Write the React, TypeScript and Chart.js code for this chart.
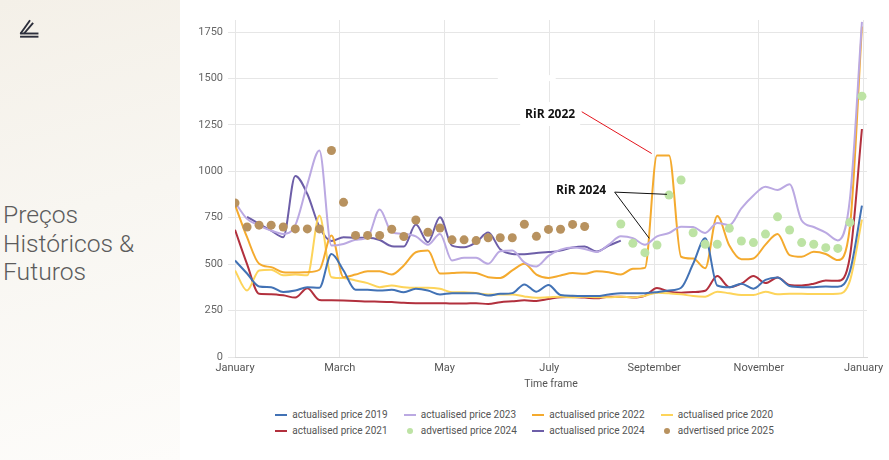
import React, { useEffect, useRef } from "react";
import { Chart, registerables } from "chart.js";

Chart.register(...registerables);

// ---------- data ----------
const weeks = [
  0, 1, 2, 3, 4, 5, 6, 7, 8, 9, 10, 11, 12, 13, 14, 15, 16, 17, 18, 19, 20, 21, 22, 23, 24, 25,
  26, 27, 28, 29, 30, 31, 32, 33, 34, 35, 36, 37, 38, 39, 40, 41, 42, 43, 44, 45, 46, 47, 48, 49,
  50, 51, 52,
];
const monthLabels = ["January", "March", "May", "July", "September", "November", "January"];
const yTickValues = [0, 250, 500, 750, 1000, 1250, 1500, 1750];

const price2019 = [
  520, 450, 380, 376, 350, 358, 376, 373, 555, 466, 362, 362, 358, 362, 349, 367, 358, 337, 344, 344,
  344, 331, 340, 344, 391, 352, 388, 334, 330, 328, 328, 337, 344, 344, 344, 349, 358, 373, 502, 640,
  385, 375, 395, 368, 415, 428, 382, 376, 376, 380, 378, 460, 815,
];
const price2023 = [
  833, 744, 708, 681, 663, 710, 930, 1112, 600, 609, 631, 645, 795, 672, 663, 650, 605, 663, 520, 535,
  534, 502, 570, 573, 510, 488, 545, 578, 590, 582, 565, 605, 650, 640, 605, 650, 668, 702, 700, 668,
  722, 710, 800, 870, 917, 900, 930, 735, 700, 670, 628, 850, 1805,
];
const price2022 = [
  820, 645, 502, 484, 457, 455, 457, 470, 654, 430, 444, 462, 462, 444, 493, 564, 573, 450, 452, 455,
  452, 430, 426, 466, 502, 444, 426, 439, 452, 448, 462, 457, 444, 475, 480, 1085, 1085, 540, 530, 478,
  759, 600, 526, 531, 605, 662, 549, 540, 567, 555, 522, 700, 1780,
];
const price2020 = [
  466, 358, 466, 470, 440, 444, 440, 762, 430, 425, 412, 398, 376, 385, 376, 373, 373, 367, 349, 349,
  344, 337, 337, 337, 326, 319, 322, 325, 321, 325, 322, 322, 324, 321, 330, 346, 343, 338, 328, 325,
  352, 343, 334, 334, 352, 338, 340, 340, 339, 339, 340, 410, 740,
];
const price2021 = [
  685, 500, 340, 338, 332, 320, 370, 307, 305, 304, 302, 299, 298, 296, 292, 290, 290, 290, 288, 288,
  290, 285, 295, 300, 305, 302, 312, 322, 323, 320, 316, 325, 325, 321, 330, 372, 352, 346, 350, 357,
  436, 376, 395, 436, 398, 428, 388, 385, 395, 412, 410, 540, 1228,
];
const actual2024 = [
  null, 755, 717, 681, 645, 975, 878, 700, 625, 645, 642, 642, 630, 597, 595, 713, 618, 753, 600, 591,
  618, 670, 580, 555, 553, 560, 565, 573, 590, 595, 568, 600, 627, null, null, null, null, null, null, null,
  null, null, null, null, null, null, null, null, null, null, null, null, null,
];
const advertised2024 = [
  null, null, null, null, null, null, null, null, null, null, null, null, null, null, null, null, null, null, null, null,
  null, null, null, null, null, null, null, null, null, null, null, null, 716, 612, 562, 603, 872, 953, 669, 607,
  607, 693, 625, 616, 662, 755, 684, 616, 607, 589, 585, 725, 1405,
];
const advertised2025 = [
  830, 700, 710, 710, 700, 690, 690, 690, 1112, 833, 655, 655, 655, 688, 649, 738, 672, 695, 631, 631,
  627, 642, 642, 642, 715, 650, 687, 688, 714, 703, null, null, null, null, null, null, null, null, null, null,
  null, null, null, null, null, null, null, null, null, null, null, null, null,
];

// annotations (in data units: week, price)
const annotationMasks = [
  { x0: 21.8, x1: 26.6, y0: 1486, y1: 1518 },
  { x0: 23.65, x1: 28.63, y0: 1244, y1: 1373 },
];
const annotationLabels = [
  { text: "RiR 2022", x: 26.14, y: 1303 },
  { text: "RiR 2024", x: 28.71, y: 894 },
];
const annotationLeaders = [
  { color: "#e3141c", from: [28.76, 1321], to: [34.56, 1096] },
  { color: "#111111", from: [31.49, 888], to: [35.83, 876] },
  { color: "#111111", from: [31.49, 888], to: [34.36, 639] },
];

// ---------- series definitions ----------
type Series = { label: string; values: (number | null)[]; color: string; kind: "line" | "dot" };
const seriesList: Series[] = [
  { label: "actualised price 2019", values: price2019, color: "#4272b5", kind: "line" },
  { label: "actualised price 2023", values: price2023, color: "#bba9e2", kind: "line" },
  { label: "actualised price 2022", values: price2022, color: "#f4aa2e", kind: "line" },
  { label: "actualised price 2020", values: price2020, color: "#fdd45a", kind: "line" },
  { label: "actualised price 2021", values: price2021, color: "#b2303d", kind: "line" },
  { label: "advertised price 2024", values: advertised2024, color: "#bde3a4", kind: "dot" },
  { label: "actualised price 2024", values: actual2024, color: "#6d5ea8", kind: "line" },
  { label: "advertised price 2025", values: advertised2025, color: "#b8925f", kind: "dot" },
];

const WEEKS_PER_YEAR = 52.14;
const X_MAX = 52.42;
const Y_MAX = 1815;

const annotationPlugin = {
  id: "rirAnnotations",
  afterDatasetsDraw(chart: any) {
    const { ctx } = chart;
    const xs = chart.scales.x;
    const ys = chart.scales.y;
    ctx.save();
    ctx.fillStyle = "#ffffff";
    annotationMasks.forEach((m) => {
      const x0 = xs.getPixelForValue(m.x0);
      const x1 = xs.getPixelForValue(m.x1);
      const y0 = ys.getPixelForValue(m.y1);
      const y1 = ys.getPixelForValue(m.y0);
      ctx.fillRect(x0, y0, x1 - x0, y1 - y0);
    });
    ctx.lineWidth = 1;
    annotationLeaders.forEach((l) => {
      ctx.strokeStyle = l.color;
      ctx.beginPath();
      ctx.moveTo(xs.getPixelForValue(l.from[0]), ys.getPixelForValue(l.from[1]));
      ctx.lineTo(xs.getPixelForValue(l.to[0]), ys.getPixelForValue(l.to[1]));
      ctx.stroke();
    });
    ctx.fillStyle = "#111111";
    ctx.font = "bold 12px 'Open Sans', 'DejaVu Sans', sans-serif";
    ctx.textAlign = "center";
    ctx.textBaseline = "middle";
    annotationLabels.forEach((a) => {
      ctx.fillText(a.text, xs.getPixelForValue(a.x), ys.getPixelForValue(a.y));
    });
    ctx.restore();
  },
};

export default function App() {
  const canvasRef = useRef<HTMLCanvasElement>(null);

  useEffect(() => {
    document.body.style.margin = "0";
    const canvas = canvasRef.current;
    if (!canvas) return;
    Chart.defaults.font.family = "Roboto, 'Noto Sans', sans-serif";

    const datasets = seriesList.map((s, idx) => {
      const data = s.values.map((v, i) => ({ x: weeks[i], y: v }));
      if (s.kind === "dot") {
        return {
          label: s.label,
          data,
          showLine: false,
          pointRadius: 4.5,
          pointHoverRadius: 4.5,
          pointBackgroundColor: s.color,
          pointBorderWidth: 0,
          borderColor: s.color,
          backgroundColor: s.color,
          order: 0,
        };
      }
      return {
        label: s.label,
        data,
        borderColor: s.color,
        backgroundColor: s.color,
        borderWidth: 2,
        pointRadius: 0,
        cubicInterpolationMode: "monotone" as const,
        spanGaps: false,
        fill: false,
        order: 1 + idx,
      };
    });

    const chart = new Chart(canvas, {
      type: "line",
      data: { datasets: datasets as any },
      options: {
        responsive: false,
        animation: false,
        layout: { padding: { left: 15, right: 22, top: 20, bottom: 0 } },
        plugins: {
          legend: { display: false },
          tooltip: { enabled: false },
        },
        scales: {
          x: {
            type: "linear",
            min: 0,
            max: X_MAX,
            afterBuildTicks: (scale: any) => {
              scale.ticks = monthLabels.map((_, i) => ({ value: (i * WEEKS_PER_YEAR) / 6 }));
            },
            afterFit: (scale: any) => {
              scale.height = 38;
            },
            ticks: {
              autoSkip: false,
              maxRotation: 0,
              color: "#555555",
              font: { size: 11 },
              padding: 5,
              callback: (_v: any, i: number) => monthLabels[i],
            },
            grid: { color: "#e6e6e6", drawTicks: false },
            border: { color: "#d8d8d8" },
            title: {
              display: true,
              text: "Time frame",
              color: "#555555",
              font: { size: 10.5 },
              padding: { top: 0, bottom: 4 },
            },
          },
          y: {
            type: "linear",
            min: 0,
            max: Y_MAX,
            afterBuildTicks: (scale: any) => {
              scale.ticks = yTickValues.map((v) => ({ value: v }));
            },
            afterFit: (scale: any) => {
              scale.width = 40;
            },
            ticks: {
              color: "#666666",
              font: { size: 11 },
              padding: 5,
              callback: (v: any) => String(v),
            },
            grid: { color: "#e6e6e6", tickLength: 7 },
            border: { display: false },
          },
        },
      },
      plugins: [annotationPlugin],
    });
    return () => chart.destroy();
  }, []);

  return (
    <div
      style={{
        position: "relative",
        width: 889,
        height: 460,
        overflow: "hidden",
        background: "#ffffff",
        fontFamily: "Roboto, 'Noto Sans', sans-serif",
      }}
    >
      <div
        style={{
          position: "absolute",
          left: 0,
          top: 0,
          width: 180,
          height: 460,
          background: "linear-gradient(165deg, #f4f0e8 0%, #f8f6f1 45%, #fdfcfa 100%)",
        }}
      >
        <svg width="40" height="40" style={{ position: "absolute", left: 0, top: 0 }}>
          <g stroke="#2c2e3b" strokeWidth="1.9" fill="none" strokeLinecap="square">
            <line x1="21" y1="33" x2="29.5" y2="21" />
            <line x1="24.5" y1="33" x2="32.5" y2="23.5" />
            <line x1="21" y1="33.5" x2="37.5" y2="33.5" />
            <line x1="21" y1="36.7" x2="37.5" y2="36.7" />
          </g>
        </svg>
        <div
          style={{
            position: "absolute",
            left: 3,
            top: 201,
            fontSize: 24.7,
            lineHeight: "28.5px",
            color: "#5c5c5c",
            fontWeight: 300,
            whiteSpace: "nowrap",
          }}
        >
          Preços
          <br />
          Históricos &amp;
          <br />
          Futuros
        </div>
      </div>
      <div style={{ position: "absolute", left: 180, top: 0, width: 709, height: 395 }}>
        <canvas ref={canvasRef} width={709} height={395} style={{ display: "block" }} />
      </div>
      <div
        style={{
          position: "absolute",
          left: 275,
          top: 406.5,
          display: "grid",
          gridTemplateColumns: "repeat(4, 128.5px)",
          gridAutoRows: "16px",
          fontSize: 10,
          color: "#555555",
          lineHeight: "16px",
        }}
      >
        {seriesList.map((s) => (
          <div key={s.label} style={{ display: "flex", alignItems: "center", whiteSpace: "nowrap" }}>
            <span
              style={{
                width: 12,
                height: 16,
                display: "inline-flex",
                alignItems: "center",
                justifyContent: "center",
                marginRight: 5.3,
              }}
            >
              {s.kind === "line" ? (
                <span style={{ width: 12, height: 2, background: s.color, display: "block" }} />
              ) : (
                <span
                  style={{ width: 6, height: 6, borderRadius: 3, background: s.color, display: "block" }}
                />
              )}
            </span>
            <span>{s.label}</span>
          </div>
        ))}
      </div>
    </div>
  );
}
